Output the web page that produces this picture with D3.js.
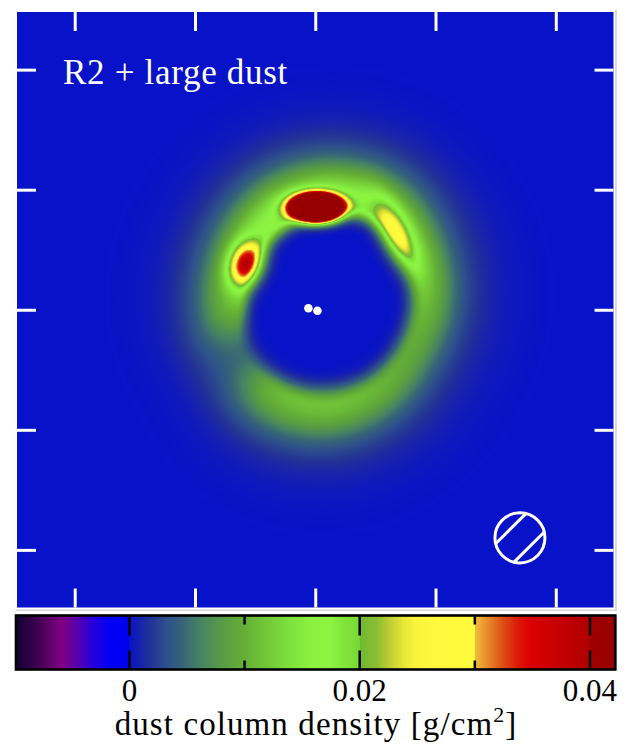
<!DOCTYPE html>
<html>
<head>
<meta charset="utf-8">
<script src="https://cdn.jsdelivr.net/npm/d3@7"></script>
<style>
  html, body { margin: 0; padding: 0; background: #fff; }
  svg { display: block; }
  text { font-family: "Liberation Serif", "Times New Roman", serif; }
</style>
</head>
<body>
<svg id="chart" width="627" height="750"></svg>
<script>
// ---- data -------------------------------------------------------------
const titleText = "R2 + large dust";
const axisTicks = [-2, -1, 0, 1, 2];            // arcsec offsets (both axes)
const fieldHalfWidth = 2.48;                     // arcsec shown either side of centre

// ring: centre (arcsec) and per-azimuth radius / peak column density / radial widths
const ringCenter = [0.10, 0.06];
const ringAzimuth  = [0, 30, 60, 90, 120, 150, 180, 210, 240, 270, 300, 330];   // deg, CCW from +x
const ringRadius   = [0.80, 0.815, 0.85, 0.83, 0.79, 0.75, 0.75, 0.83, 0.85, 0.85, 0.815, 0.785];
const ringPeak     = [0.011, 0.0135, 0.016, 0.017, 0.017, 0.014, 0.0115, 0.005, 0.0105, 0.0115, 0.0105, 0.0095];
const ringSigmaIn  = [0.085, 0.078, 0.075, 0.075, 0.075, 0.072, 0.070, 0.085, 0.090, 0.100, 0.092, 0.085];
const ringSigmaOut = [0.17, 0.18, 0.20, 0.21, 0.21, 0.21, 0.21, 0.25, 0.21, 0.19, 0.18, 0.17];
const ringHalo     = [0.32, 0.36];               // outer halo fraction, halo width (arcsec)

// compact clumps along the ring
const clumpX     = [0.011, -0.574, 0.665];
const clumpY     = [0.850, 0.381, 0.612];
const clumpSMaj  = [0.114, 0.124, 0.200];
const clumpSMin  = [0.063, 0.090, 0.080];
const clumpAngle = [0, 72, -65];
const clumpPeak  = [0.2, 0.026, 0.015];

// stars
const starX = [-0.057, 0.018];
const starY = [0.012, -0.008];

// beam
const beamCenter = [1.702, -1.900];
const beamRadius = 0.208;
const beamHatch  = [-0.108, 0.108];

// colour bar
const cbarTicks  = [0, 0.01, 0.02, 0.03, 0.04];
const cbarLabels = [0, 0.02, 0.04];
const cbarDomain = [-0.00985, 0.0422];
const cmapValues = [-0.0100, -0.0081, -0.0059, -0.0046, -0.0032, -0.0017, 0, 0,
                    0.0018, 0.0032, 0.0046, 0.0061, 0.0076, 0.0090, 0.0100, 0.0119, 0.0139,
                    0.0157, 0.0174, 0.0185, 0.0200, 0.0200, 0.0215, 0.0226, 0.0238, 0.0249,
                    0.0270, 0.0300, 0.0300, 0.0313, 0.0324, 0.0336, 0.0348, 0.0371, 0.0400, 0.0400, 0.0425];
const cmapColors = ["#0f002d", "#3c0050", "#800080", "#5a00aa", "#2800dc", "#0000f5", "#0000f0", "#0812c8",
                    "#233296", "#2d508c", "#376478", "#468264", "#55964b", "#5fa53c", "#64af37", "#73c837", "#7de13c",
                    "#8cf041", "#8cf541", "#82e63c", "#78d737", "#6eb932", "#8cbe32", "#becd32", "#e6e637", "#faf53c",
                    "#fffa3c", "#fffa3c", "#f0be3c", "#e68228", "#dc5014", "#dc1e0a", "#dc0000", "#c80000", "#af0000", "#a00000", "#960000"];

// ---- layout -----------------------------------------------------------
const plot = { x0: 17, x1: 613.5, y0: 12, y1: 607.5 };
const svg = d3.select("#chart");

const x = d3.scaleLinear().domain([-fieldHalfWidth, fieldHalfWidth]).range([plot.x0, plot.x1]);
const y = d3.scaleLinear().domain([-fieldHalfWidth, fieldHalfWidth]).range([plot.y1, plot.y0]);
const cmap = d3.scaleLinear().domain(cmapValues).range(cmapColors).clamp(true);

// ---- field model ------------------------------------------------------
function periodicSpline(samples, t) {
  const n = samples.length;
  const i = Math.floor(t), f = t - i;
  const p0 = samples[((i - 1) % n + n) % n], p1 = samples[(i % n + n) % n];
  const p2 = samples[((i + 1) % n + n) % n], p3 = samples[((i + 2) % n + n) % n];
  return 0.5 * ((2 * p1) + (-p0 + p2) * f + (2 * p0 - 5 * p1 + 4 * p2 - p3) * f * f +
                (-p0 + 3 * p1 - 3 * p2 + p3) * f * f * f);
}

const azStep = ringAzimuth[1] - ringAzimuth[0];
const clumpTrig = clumpAngle.map(a => [Math.cos(a * Math.PI / 180), Math.sin(a * Math.PI / 180)]);

function density(px, py) {
  const dx = px - ringCenter[0], dy = py - ringCenter[1];
  const r = Math.hypot(dx, dy);
  let az = Math.atan2(dy, dx) * 180 / Math.PI;
  if (az < 0) az += 360;
  const t = az / azStep;
  const R = periodicSpline(ringRadius, t);
  const P = periodicSpline(ringPeak, t);
  const d = r - R;
  let v;
  if (d < 0) {
    const s = periodicSpline(ringSigmaIn, t);
    v = P * Math.exp(-d * d / (2 * s * s));
  } else {
    const s = periodicSpline(ringSigmaOut, t);
    v = P * ((1 - ringHalo[0]) * Math.exp(-d * d / (2 * s * s)) +
             ringHalo[0] * Math.exp(-d * d / (2 * ringHalo[1] * ringHalo[1])));
  }
  for (let k = 0; k < clumpX.length; k++) {
    const ux = px - clumpX[k], uy = py - clumpY[k];
    const [c, s] = clumpTrig[k];
    const a = ux * c + uy * s, b = -ux * s + uy * c;
    v += clumpPeak[k] * Math.exp(-(a * a / (2 * clumpSMaj[k] * clumpSMaj[k]) +
                                    b * b / (2 * clumpSMin[k] * clumpSMin[k])));
  }
  return v;
}

// colour lookup table built from the colour scale
const lutN = 8192, lutLo = cmapValues[0], lutHi = cmapValues[cmapValues.length - 1];
const lut = d3.range(lutN).map(i => d3.rgb(cmap(lutLo + (lutHi - lutLo) * i / (lutN - 1))));
const lutStep = (lutHi - lutLo) / (lutN - 1);
function lookup(v) {
  let i = Math.round((v - lutLo) / lutStep);
  if (i < 0) i = 0; if (i >= lutN) i = lutN - 1;
  return lut[i];
}

// ---- density image ----------------------------------------------------
const cw = Math.round(plot.x1 - plot.x0), ch = Math.round(plot.y1 - plot.y0);
const canvas = document.createElement("canvas");
canvas.width = cw; canvas.height = ch;
const ctx = canvas.getContext("2d");
const img = ctx.createImageData(cw, ch);
for (let j = 0; j < ch; j++) {
  const dyv = y.invert(plot.y0 + (j + 0.5) * (plot.y1 - plot.y0) / ch);
  for (let i = 0; i < cw; i++) {
    const dxv = x.invert(plot.x0 + (i + 0.5) * (plot.x1 - plot.x0) / cw);
    const v = Math.max(density(dxv, dyv), 2 * lutStep);   // empty sky sits just above zero
    const c = lookup(v);
    const o = (j * cw + i) * 4;
    img.data[o] = c.r; img.data[o + 1] = c.g; img.data[o + 2] = c.b; img.data[o + 3] = 255;
  }
}
ctx.putImageData(img, 0, 0);

svg.append("image")
  .attr("x", plot.x0).attr("y", plot.y0)
  .attr("width", plot.x1 - plot.x0).attr("height", plot.y1 - plot.y0)
  .attr("preserveAspectRatio", "none")
  .attr("href", canvas.toDataURL());

// thin frame on the right and bottom of the panel
svg.append("line").attr("x1", 616).attr("x2", 616).attr("y1", 10).attr("y2", 611)
  .attr("stroke", "#d9d9d9").attr("stroke-width", 2);
svg.append("line").attr("x1", 16).attr("x2", 617).attr("y1", 610.2).attr("y2", 610.2)
  .attr("stroke", "#d9d9d9").attr("stroke-width", 1.6);

// ---- inward white ticks -----------------------------------------------
const tickLen = 19;
function styleAxis(g) {
  g.select(".domain").remove();
  g.selectAll("text").remove();
  g.selectAll("line").attr("stroke", "#fff").attr("stroke-width", 3);
}
svg.append("g").attr("transform", `translate(0,${plot.y0})`)
  .call(d3.axisBottom(x).tickValues(axisTicks).tickSize(tickLen).tickFormat(() => "")).call(styleAxis);
svg.append("g").attr("transform", `translate(0,${plot.y1})`)
  .call(d3.axisTop(x).tickValues(axisTicks).tickSize(tickLen).tickFormat(() => "")).call(styleAxis);
svg.append("g").attr("transform", `translate(${plot.x0},0)`)
  .call(d3.axisRight(y).tickValues(axisTicks).tickSize(tickLen).tickFormat(() => "")).call(styleAxis);
svg.append("g").attr("transform", `translate(${plot.x1},0)`)
  .call(d3.axisLeft(y).tickValues(axisTicks).tickSize(tickLen).tickFormat(() => "")).call(styleAxis);

// ---- stars ------------------------------------------------------------
svg.append("g").selectAll("circle").data(d3.zip(starX, starY)).join("circle")
  .attr("cx", d => x(d[0])).attr("cy", d => y(d[1])).attr("r", 4.3).attr("fill", "#fff");

// ---- beam -------------------------------------------------------------
const beam = svg.append("g");
const pxPerUnit = x(1) - x(0);
beam.append("circle")
  .attr("cx", x(beamCenter[0])).attr("cy", y(beamCenter[1]))
  .attr("r", beamRadius * pxPerUnit)
  .attr("fill", "none").attr("stroke", "#fff").attr("stroke-width", 3);
const tDir = [Math.SQRT1_2, Math.SQRT1_2], nDir = [Math.SQRT1_2, -Math.SQRT1_2];
beam.selectAll("line").data(beamHatch).join("line")
  .each(function (o) {
    const half = Math.sqrt(beamRadius * beamRadius - o * o);
    const cx = beamCenter[0] + o * nDir[0], cy = beamCenter[1] + o * nDir[1];
    d3.select(this)
      .attr("x1", x(cx - half * tDir[0])).attr("y1", y(cy - half * tDir[1]))
      .attr("x2", x(cx + half * tDir[0])).attr("y2", y(cy + half * tDir[1]));
  })
  .attr("stroke", "#fff").attr("stroke-width", 3);

// ---- title ------------------------------------------------------------
svg.append("text").attr("x", 63).attr("y", 83.5)
  .attr("fill", "#fff").attr("font-size", 35).attr("letter-spacing", 0.7).text(titleText);

// ---- colour bar -------------------------------------------------------
const cb = { x0: 16, x1: 615.3, y0: 615.5, y1: 669.5 };
const cbx = d3.scaleLinear().domain(cbarDomain).range([cb.x0, cb.x1]);
svg.append("g").selectAll("rect").data(d3.range(Math.floor(cb.x0), Math.ceil(cb.x1)))
  .join("rect")
  .attr("x", d => d).attr("y", cb.y0).attr("width", 1.2).attr("height", cb.y1 - cb.y0)
  .attr("fill", d => cmap(cbx.invert(d + 0.5)));

const cbTicks = svg.append("g");
cbarTicks.forEach(v => {
  const major = cbarLabels.includes(v);
  const top = major ? 20 : 9, bottom = major ? 19 : 9;
  cbTicks.append("line").attr("x1", cbx(v)).attr("x2", cbx(v))
    .attr("y1", cb.y0).attr("y2", cb.y0 + top).attr("stroke", "#000").attr("stroke-width", 2.5);
  cbTicks.append("line").attr("x1", cbx(v)).attr("x2", cbx(v))
    .attr("y1", cb.y1).attr("y2", cb.y1 - bottom).attr("stroke", "#000").attr("stroke-width", 2.5);
});
svg.append("rect").attr("x", cb.x0).attr("y", cb.y0)
  .attr("width", cb.x1 - cb.x0).attr("height", cb.y1 - cb.y0)
  .attr("fill", "none").attr("stroke", "#000").attr("stroke-width", 2.6);

svg.append("g").selectAll("text").data(cbarLabels).join("text")
  .attr("x", d => cbx(d)).attr("y", 701)
  .attr("text-anchor", "middle").attr("font-size", 31).attr("fill", "#000")
  .text(d => d === 0 ? "0" : d3.format(".2f")(d));

const lab = svg.append("text").attr("x", 316).attr("y", 735)
  .attr("text-anchor", "middle").attr("font-size", 33).attr("letter-spacing", 1.1).attr("fill", "#000");
lab.append("tspan").text("dust column density [g/cm");
lab.append("tspan").attr("font-size", 22).attr("dy", -13).text("2");
lab.append("tspan").attr("dy", 13).text("]");
</script>
</body>
</html>
